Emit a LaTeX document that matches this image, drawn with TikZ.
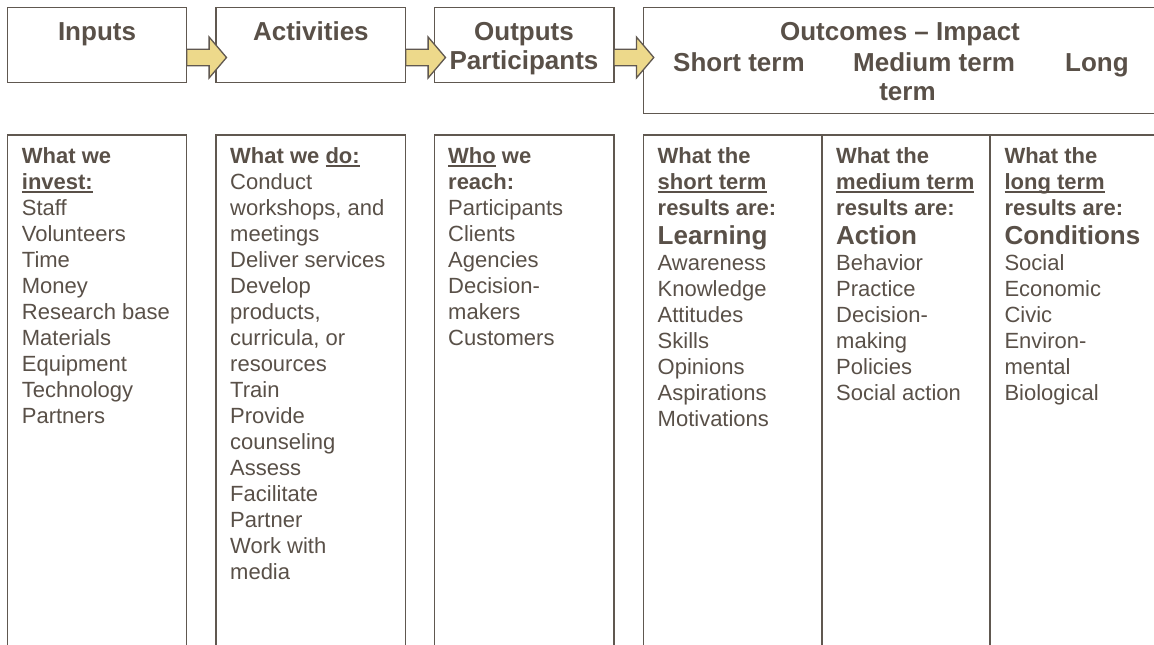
\documentclass[tikz,border=0pt]{standalone}
\usepackage{fontspec}
\setmainfont{Liberation Sans}
\usetikzlibrary{calc}
\definecolor{ink}{RGB}{89,80,72}
\definecolor{edge}{RGB}{96,88,80}
\definecolor{arrowfill}{RGB}{237,217,139}
\newcommand{\myul}[1]{\setbox0\hbox{#1}\rlap{\rule[-3.4pt]{\wd0}{1.6pt}}\box0\relax}
\newcommand{\flowarrow}[1]{%
  \draw[blockarr] ($(#1.south east)+(0,-33.5)$) -- ++(22.4,0) -- ++(0,-12.2)
    -- ++(17.4,20.5) -- ++(-17.4,20.5) -- ++(0,-12.2) -- ++(-22.4,0) -- cycle;}
\begin{document}
\begin{tikzpicture}[x=1pt,y=-1pt,
  box/.style={draw=edge,line width=1.3pt,rectangle,inner sep=0pt,outer sep=0pt,anchor=north west},
  head/.style={text=ink,font=\fontsize{26}{30}\selectfont\bfseries,inner sep=0pt},
  col/.style={text=ink,font=\fontsize{22}{26}\selectfont,inner sep=0pt,anchor=north west,align=left},
  blockarr/.style={draw=edge,fill=arrowfill,line width=1.3pt,line join=miter}]
\useasboundingbox (0,0) rectangle (1154,645);
\clip (0,0) rectangle (1154,645);
% top row
\node[box,minimum width=179.4pt,minimum height=75.4pt] (inputs) at (7.3,7.3) {};
\node[box,minimum width=189.7pt,minimum height=75.4pt] (activities) at (216,7.3) {};
\node[box,minimum width=179.7pt,minimum height=75.4pt] (outputs) at (434.3,7.3) {};
\node[box,minimum width=520pt,minimum height=106pt] (outcomes) at (643.3,7.3) {};
% bottom row
\node[box,minimum width=179.4pt,minimum height=520pt] (invest) at (7.3,135) {};
\node[box,minimum width=189.7pt,minimum height=520pt] (dobox) at (216,135) {};
\node[box,minimum width=179.7pt,minimum height=520pt] (reach) at (434.3,135) {};
\node[box,minimum width=178.7pt,minimum height=520pt] (short) at (643.3,135) {};
\node[box,minimum width=168pt,minimum height=520pt] (medium) at (822,135) {};
\node[box,minimum width=180pt,minimum height=520pt] (long) at (990,135) {};
% arrows
\flowarrow{inputs}
\flowarrow{activities}
\flowarrow{outputs}
% header texts
\node[head,anchor=base] (tin) at (97,40) {Inputs};
\node[head,anchor=base] (tact) at (310.9,40) {Activities};
\node[head,anchor=base] (tout) at (524,40) {Outputs};
\node[head,anchor=base] (tpart) at (524,69.3) {Participants};
\node[head,anchor=base] (toc) at (900,40) {Outcomes – Impact};
\node[head,anchor=base west] (tst) at (673,71.7) {Short term};
\node[head,anchor=base west] (tmt) at (853,71.7) {Medium term};
\node[head,anchor=base west] (tlt) at (1065,71.7) {Long};
\node[head,anchor=base] (tterm) at (907.5,100) {term};
% column texts
\node[col] (c1) at (21.7,143.3) {\rule{0pt}{20pt}\textbf{What we}\\\textbf{\myul{invest:}}\\Staff\\Volunteers\\Time\\Money\\Research base\\Materials\\Equipment\\Technology\\Partners};
\node[col] (c2) at (230,143.3) {\rule{0pt}{20pt}\textbf{What we \myul{do:}}\\Conduct\\workshops, and\\meetings\\Deliver services\\Develop\\products,\\curricula, or\\resources\\Train\\Provide\\counseling\\Assess\\Facilitate\\Partner\\Work with\\media};
\node[col] (c3) at (448,143.3) {\rule{0pt}{20pt}\textbf{\myul{Who} we}\\\textbf{reach:}\\Participants\\Clients\\Agencies\\Decision-\\makers\\Customers};
\node[col] (c4) at (657.5,143.3) {\rule{0pt}{20pt}\textbf{What the}\\\textbf{\myul{short term}}\\\textbf{results are:}\\[3pt]{\fontsize{26}{26}\selectfont\bfseries Learning}\\Awareness\\Knowledge\\Attitudes\\Skills\\Opinions\\Aspirations\\Motivations};
\node[col] (c5) at (836,143.3) {\rule{0pt}{20pt}\textbf{What the}\\\textbf{\myul{medium term}}\\\textbf{results are:}\\[3pt]{\fontsize{26}{26}\selectfont\bfseries Action}\\Behavior\\Practice\\Decision-\\making\\Policies\\Social action};
\node[col] (c6) at (1004.3,143.3) {\rule{0pt}{20pt}\textbf{What the}\\\textbf{\myul{long term}}\\\textbf{results are:}\\[3pt]{\fontsize{26}{26}\selectfont\bfseries Conditions}\\Social\\Economic\\Civic\\Environ-\\mental\\Biological};
\end{tikzpicture}
\end{document}
